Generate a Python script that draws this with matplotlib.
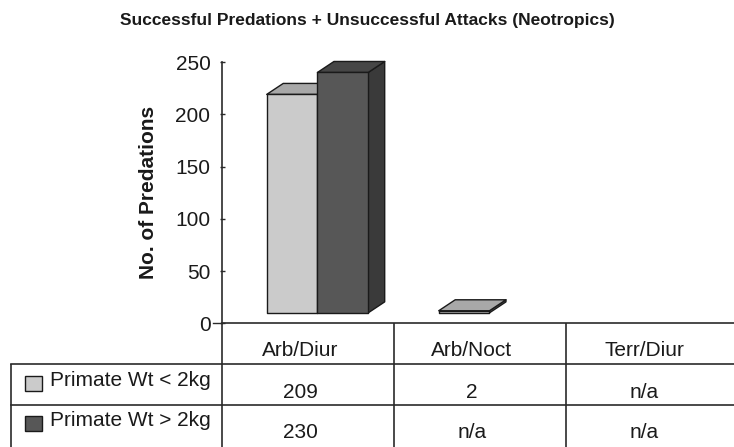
import matplotlib
matplotlib.use("Agg")
import matplotlib.pyplot as plt
from matplotlib.patches import Polygon, Rectangle

# ---- data ----
title = "Successful Predations + Unsuccessful Attacks (Neotropics)"
ylabel = "No. of Predations"
categories = ["Arb/Diur", "Arb/Noct", "Terr/Diur"]
series_names = ["Primate Wt < 2kg", "Primate Wt > 2kg"]
small_primates = [209, 2, None]
large_primates = [230, None, None]
yticks = [0, 50, 100, 150, 200, 250]

# ---- style ----
plt.rcParams['font.family'] = ['Liberation Sans', 'DejaVu Sans']
W, H = 734, 447
fig = plt.figure(figsize=(W / 100, H / 100), dpi=100)
fig.patch.set_facecolor('white')

txt = '#1a1a1a'
line_c = '#2a2a2a'
edge_c = '#1a1a1a'
light_faces = ('#cbcbcb', '#a8a8a8', '#6e6e6e')   # front, top, side
dark_faces = ('#575757', '#464646', '#3a3a3a')
fs = 15

ax_left, ax_right = 222, 734
y0_px, y250_px = 323.3, 62
cat_px = 172.0
ax = fig.add_axes([ax_left / W, (H - y0_px) / H, (ax_right - ax_left) / W,
                   (y0_px - y250_px) / H])
ax.set_facecolor('none')
ax.set_xlim(0, (ax_right - ax_left) / cat_px)
ax.set_ylim(0, 250)
for s in ['top', 'right']:
    ax.spines[s].set_visible(False)
for s in ['left', 'bottom']:
    ax.spines[s].set_color(line_c)
    ax.spines[s].set_linewidth(1.2)
ax.set_xticks([])
ax.set_yticks(yticks)
ax.set_yticklabels([str(t) for t in yticks], fontsize=fs, color=txt)
ax.tick_params(axis='y', direction='inout', length=3.6, width=1, pad=6.5, color=line_c)
ax.set_ylabel(ylabel, fontsize=fs, fontweight='bold', color=txt, va='center')
ax.yaxis.set_label_coords((148 - ax_left) / (ax_right - ax_left), 0.5)

base = 10.0
dx = 16.5 / cat_px
dy = 10.5
bw = 0.295


def bar3d(x0, v, faces, z):
    front, top, side = faces
    b, t = base, base + v
    kw = dict(edgecolor=edge_c, linewidth=1.0, clip_on=False, joinstyle='round')
    ax.add_patch(Polygon([(x0 + bw, b), (x0 + bw + dx, b + dy), (x0 + bw + dx, t + dy), (x0 + bw, t)],
                         facecolor=side, zorder=z, **kw))
    ax.add_patch(Polygon([(x0, t), (x0 + bw, t), (x0 + bw + dx, t + dy), (x0 + dx, t + dy)],
                         facecolor=top, zorder=z + 0.1, **kw))
    ax.add_patch(Polygon([(x0, b), (x0 + bw, b), (x0 + bw, t), (x0, t)],
                         facecolor=front, zorder=z + 0.2, **kw))


for i in range(len(categories)):
    if small_primates[i] is not None:
        bar3d(i + 0.26, small_primates[i], light_faces, 3 + i)
    if large_primates[i] is not None:
        bar3d(i + 0.26 + bw, large_primates[i], dark_faces, 3.5 + i)

# ---- data table (overlay in pixel coordinates) ----
ov = fig.add_axes([0, 0, 1, 1], zorder=5)
ov.set_xlim(0, W)
ov.set_ylim(H, 0)
ov.axis('off')
ov.patch.set_alpha(0)

lw = 1.2
col_edges = [ax_left + cat_px * k for k in range(len(categories) + 1)]
row_top, row1, row2 = y0_px, 363.5, 405
left_edge = 11
for xe in col_edges[:-1]:
    ov.plot([xe, xe], [row_top, H], color=line_c, lw=lw, solid_capstyle='butt')
ov.plot([left_edge, left_edge], [row1, H], color=line_c, lw=lw, solid_capstyle='butt')
ov.plot([left_edge, W], [row1, row1], color=line_c, lw=lw)
ov.plot([left_edge, W], [row2, row2], color=line_c, lw=lw)
ov.plot([213, ax_left], [y0_px, y0_px], color=line_c, lw=1.0)

for i, c in enumerate(categories):
    cx = ax_left + cat_px * (i + 0.5) - 8
    ov.text(cx, 350.5, c, ha='center', va='center', fontsize=fs, color=txt)
    for vals, yy in ((small_primates, 392), (large_primates, 432)):
        v = vals[i]
        ov.text(cx, yy, 'n/a' if v is None else str(v), ha='center', va='center',
                fontsize=fs, color=txt)

for name, face, yy in ((series_names[0], light_faces[0], 376),
                       (series_names[1], dark_faces[0], 416)):
    ov.add_patch(Rectangle((25, yy), 17, 15, facecolor=face, edgecolor=edge_c, lw=1.0))
    ov.text(50, yy + 5, name, ha='left', va='center', fontsize=fs, color=txt)

fig.text(0.5, 1 - 20 / H, title, ha='center', va='center', fontsize=12.5,
         fontweight='bold', color=txt)

fig.savefig('out.png', dpi=100)
